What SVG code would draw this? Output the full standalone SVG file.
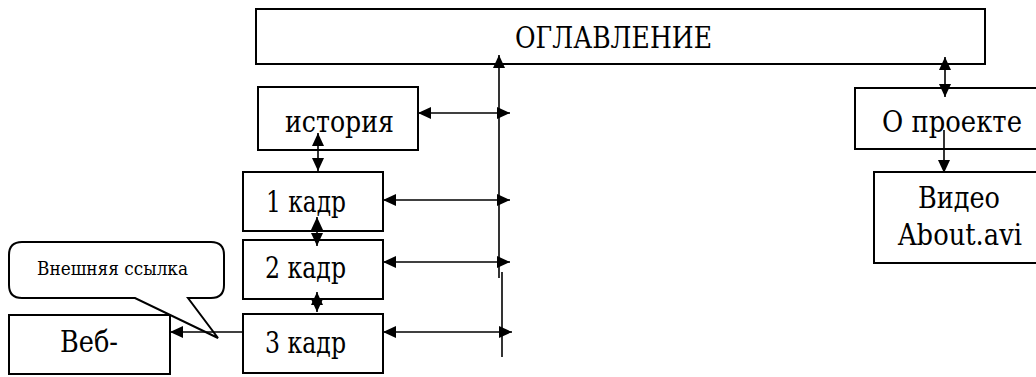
<svg xmlns="http://www.w3.org/2000/svg" width="1036" height="377" viewBox="0 0 1036 377">
<style>
.box{fill:#fff;stroke:#000;stroke-width:2}
.t{font-family:'DejaVu Serif','Liberation Serif',serif;font-size:29px;fill:#000}
.s{font-family:'DejaVu Serif','Liberation Serif',serif;font-size:19px;fill:#000}
.c{stroke:#000;stroke-width:1.6;fill:none}
.a2{marker-start:url(#ah);marker-end:url(#ah)}
.a1{marker-end:url(#ah)}
</style>
<defs>
<marker id="ah" markerUnits="userSpaceOnUse" markerWidth="14" markerHeight="12" refX="13" refY="6" orient="auto-start-reverse">
<path d="M0,0 L13,6 L0,12 z" fill="#000"/>
</marker>
</defs>
<rect width="1036" height="377" fill="#fff"/>
<g id="oglavlenie"><rect class="box" x="256" y="9" width="729" height="55"/><text class="t" x="515" y="48" textLength="197" lengthAdjust="spacingAndGlyphs">ОГЛАВЛЕНИЕ</text></g>
<g id="istoriya"><rect class="box" x="258" y="87" width="160" height="63"/><text class="t" x="285" y="132" textLength="109" lengthAdjust="spacingAndGlyphs">история</text></g>
<g id="kadr1"><rect class="box" x="243" y="172" width="140" height="59"/><text class="t" x="266" y="212" textLength="80" lengthAdjust="spacingAndGlyphs">1 кадр</text></g>
<g id="kadr2"><rect class="box" x="243" y="240" width="140" height="59"/><text class="t" x="265" y="278" textLength="81" lengthAdjust="spacingAndGlyphs">2 кадр</text></g>
<g id="kadr3"><rect class="box" x="243" y="314" width="140" height="59"/><text class="t" x="265" y="353" textLength="81" lengthAdjust="spacingAndGlyphs">3 кадр</text></g>
<g id="veb"><rect class="box" x="9" y="315" width="161" height="59"/><text class="t" x="60" y="352" textLength="58" lengthAdjust="spacingAndGlyphs">Веб-</text></g>
<g id="oproekte"><rect class="box" x="855" y="88" width="190" height="61"/><text class="t" x="882" y="132" textLength="140" lengthAdjust="spacingAndGlyphs">О проекте</text></g>
<g id="video"><rect class="box" x="874" y="172" width="170" height="91"/><text class="t" x="918" y="208" textLength="82" lengthAdjust="spacingAndGlyphs">Видео</text><text class="t" x="898" y="245" textLength="124" lengthAdjust="spacingAndGlyphs">About.avi</text></g>
<g id="callout"><path class="box" d="M22,242 L211,242 Q224,242 224,255 L224,285 Q224,298 211,298 L188,298 L218,338 L135,298 L22,298 Q9,298 9,285 L9,255 Q9,242 22,242 Z"/><text class="s" x="37" y="275" textLength="151" lengthAdjust="spacingAndGlyphs">Внешняя ссылка</text></g>
<g id="connectors">
<line class="c a1" x1="499" y1="278" x2="499" y2="55"/>
<line class="c" x1="502" y1="272" x2="502" y2="357"/>
<line class="c a2" x1="418" y1="113" x2="510" y2="113"/>
<line class="c a2" x1="383" y1="200" x2="510" y2="200"/>
<line class="c a2" x1="383" y1="262" x2="510" y2="262"/>
<line class="c a2" x1="383" y1="332" x2="512" y2="332"/>
<line class="c a2" x1="318" y1="133" x2="318" y2="171"/>
<line class="c a2" x1="317" y1="217" x2="317" y2="246"/>
<line class="c a2" x1="317" y1="292" x2="317" y2="312"/>
<line class="c a2" x1="945" y1="57" x2="945" y2="97"/>
<line class="c a1" x1="944" y1="130" x2="944" y2="173"/>
<line class="c a1" x1="243" y1="332" x2="170" y2="332"/>
</g>
</svg>
